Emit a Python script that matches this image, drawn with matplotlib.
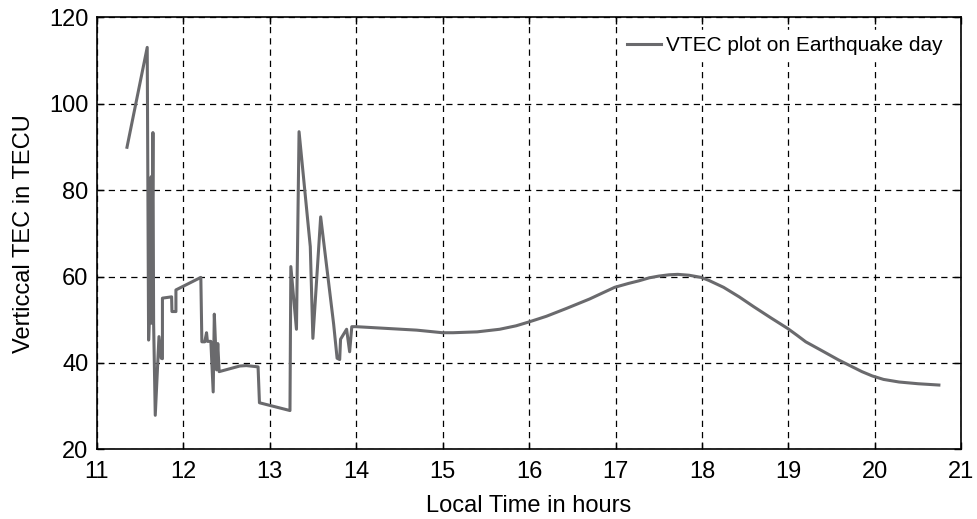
import matplotlib
matplotlib.use("Agg")
import matplotlib.pyplot as plt

plt.rcParams['font.family'] = ['Liberation Sans', 'DejaVu Sans']

# local time (hours) and VTEC (TECU)
local_time = [11.35, 11.584, 11.60, 11.62, 11.63, 11.635, 11.65, 11.658, 11.677,
              11.72, 11.746, 11.76, 11.76, 11.866, 11.87, 11.916, 11.916, 12.204,
              12.216, 12.25, 12.27, 12.28, 12.32, 12.347, 12.36, 12.386, 12.40,
              12.416, 12.655, 12.73, 12.866, 12.882, 13.235, 13.245, 13.31, 13.34,
              13.47, 13.50, 13.59, 13.74, 13.78, 13.81, 13.82, 13.89, 13.925,
              13.95, 14.0, 14.35, 14.7, 15.0, 15.12, 15.4, 15.66, 15.85, 16.0, 16.2,
              16.43, 16.7, 16.85, 16.99, 17.15, 17.27, 17.39, 17.5, 17.62, 17.72,
              17.85, 17.99, 18.08, 18.25, 18.43, 18.6, 18.8, 18.99, 19.1, 19.2,
              19.4, 19.58, 19.7, 19.85, 19.97, 20.1, 20.28, 20.5, 20.74]
vtec = [89.9, 113.0, 45.3, 56.1, 83.1, 49.2, 93.3, 49.2, 27.9,
        46.1, 41.1, 41.0, 55.0, 55.3, 51.9, 51.9, 56.9, 59.8,
        44.9, 44.9, 47.0, 45.0, 45.0, 33.3, 51.3, 38.4, 44.5,
        38.0, 39.3, 39.4, 39.1, 30.8, 29.0, 62.3, 47.8, 93.5,
        66.9, 45.7, 73.8, 49.0, 41.1, 40.8, 45.5, 47.8, 42.6,
        48.4, 48.4, 48.0, 47.6, 47.0, 47.0, 47.2, 47.8, 48.6, 49.5, 50.8,
        52.6, 54.8, 56.2, 57.5, 58.4, 59.0, 59.7, 60.1, 60.4, 60.5,
        60.3, 59.8, 59.1, 57.5, 55.3, 53.0, 50.4, 48.0, 46.4, 44.9,
        42.7, 40.7, 39.5, 38.0, 37.0, 36.2, 35.6, 35.2, 34.9]

x_ticks = list(range(11, 22))
y_ticks = [20, 40, 60, 80, 100, 120]

fig = plt.figure(figsize=(9.77, 5.19), dpi=100)
ax = fig.add_axes([0.099, 0.134, 0.885, 0.833])

ax.plot(local_time, vtec, color='#6a6a6d', lw=2.2, label='VTEC plot on Earthquake day')

ax.set_xlim(11, 21)
ax.set_ylim(20, 120)
ax.set_xticks(x_ticks)
ax.set_yticks(y_ticks)
ax.grid(True, color='black', linestyle=(0, (5, 4)), linewidth=0.9)
ax.tick_params(direction='in', top=True, right=True, labelsize=17, length=5, width=1)
ax.tick_params(axis='x', pad=8)
ax.tick_params(axis='y', pad=6)
for s in ax.spines.values():
    s.set_linewidth(1.2)

ax.set_xlabel('Local Time in hours', fontsize=17, labelpad=9)
ax.set_ylabel('Verticcal TEC in TECU', fontsize=17, labelpad=10)

leg = ax.legend(loc='upper right', fontsize=15, frameon=True, handlelength=1.6,
                handletextpad=0.25, borderaxespad=0.6, borderpad=0.3)
leg.get_frame().set_facecolor('white')
leg.get_frame().set_edgecolor('white')
leg.get_frame().set_alpha(1)

fig.savefig('out.png', dpi=100)
